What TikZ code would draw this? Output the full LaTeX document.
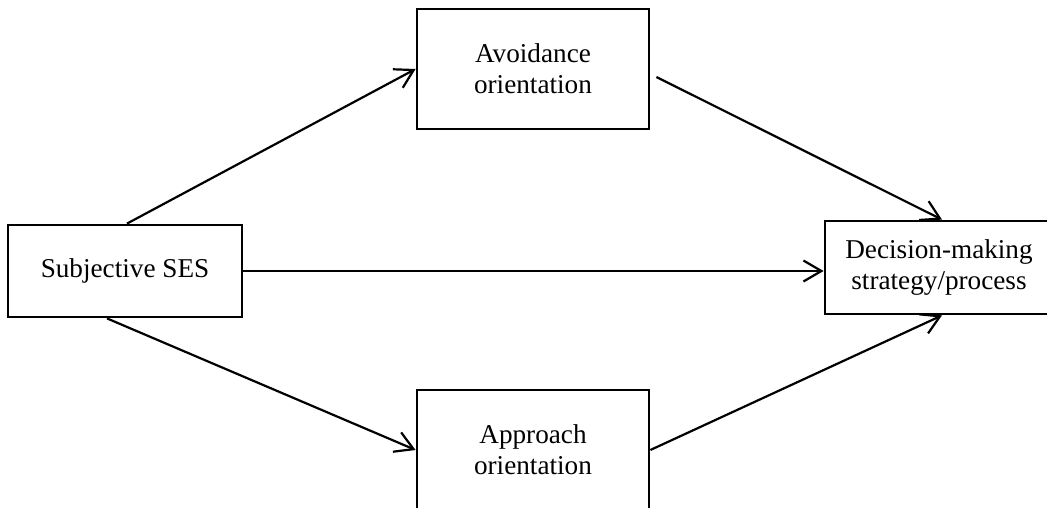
\documentclass[tikz,border=0pt]{standalone}
\usepackage{fontspec}
\setmainfont{Liberation Serif}
\usetikzlibrary{arrows.meta}

\begin{document}
\begin{tikzpicture}[x=1pt,y=-1pt,
  box/.style={draw,line width=2.8pt,inner sep=0pt,align=center,
    font=\fontsize{27.2}{31}\selectfont},
  link/.style={line width=2.2pt,-{Straight Barb[length=18pt,width=21pt,line width=2.2pt]}}]
\clip (0,0) rectangle (1047,508);
% nodes
\node[box,minimum width=234pt,minimum height=92pt]  (ses)   at (125,271)   {Subjective SES};
\node[box,minimum width=232pt,minimum height=120pt] (avoid) at (533,69)    {Avoidance\\orientation};
\node[box,minimum width=232pt,minimum height=120pt] (appr)  at (533,450)   {Approach\\orientation};
\node[box,minimum width=228pt,minimum height=93pt]  (dec)   at (939,267.5) {Decision-making\\strategy/process};
% paths
\draw[link] ([xshift=2pt]ses.north) -- (avoid.west);
\draw[link] ([xshift=-18pt]ses.south) -- (appr.west);
\draw[link] (ses.east) -- (ses.east -| dec.west);
\draw[link] ([xshift=6pt,yshift=-8pt]avoid.east) -- ([xshift=3pt]dec.north);
\draw[link] (appr.east) -- ([xshift=3pt]dec.south);
\end{tikzpicture}
\end{document}
